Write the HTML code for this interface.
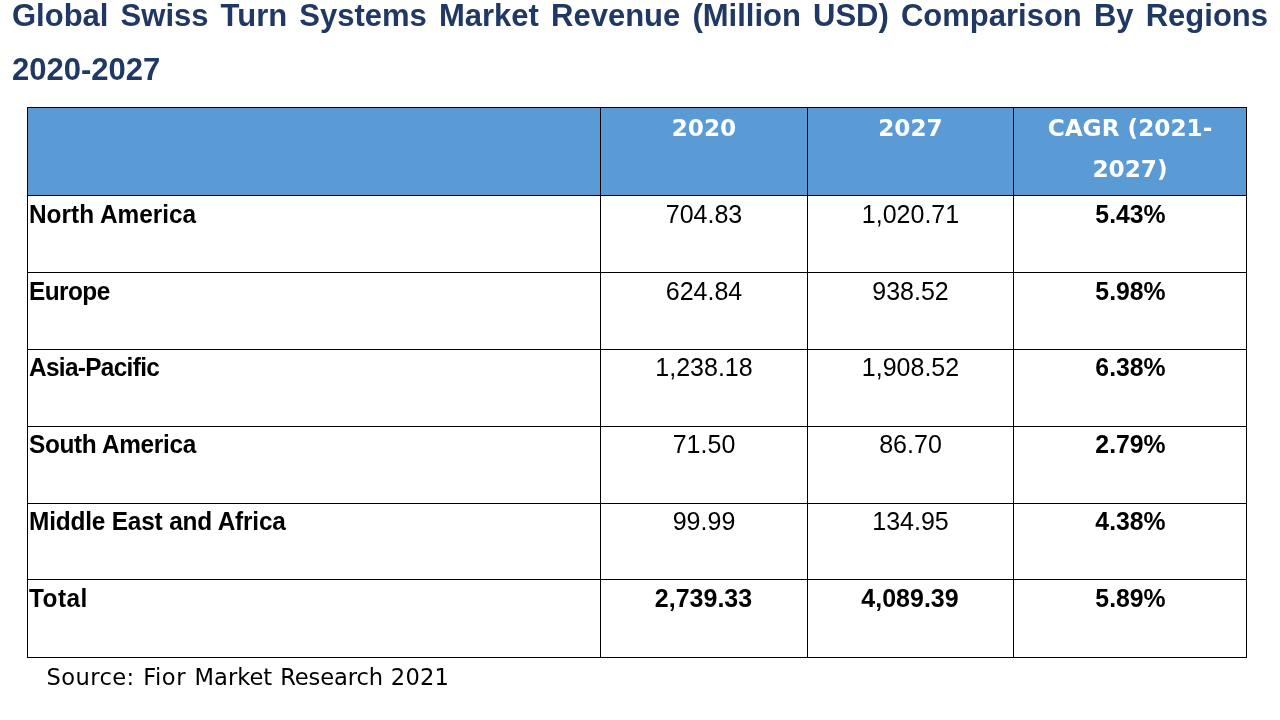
<!DOCTYPE html>
<html lang="en">
<head>
<meta charset="utf-8">
<title>Global Swiss Turn Systems Market Revenue (Million USD) Comparison By Regions 2020-2027</title>
<style>
  html, body { margin: 0; padding: 0; background: #fff; }
  body { width: 1280px; height: 720px; position: relative; overflow: hidden;
         font-family: "Liberation Sans", sans-serif; color: #000; }

  /* ---------- heading ---------- */
  h1 { position: absolute; left: 12px; top: -11px; width: 1256px; margin: 0;
       font: 700 31px/54px "Liberation Sans", sans-serif; color: #1f3864;
       text-align: justify; }

  /* ---------- table grid (1px black rules drawn by the table background) ---------- */
  table { position: absolute; left: 27px; top: 107px; border-collapse: separate;
          border-spacing: 1px; background: #000; table-layout: fixed; width: 1220px; }
  col.c0 { width: 572px; } col.c1 { width: 206px; } col.c2 { width: 205px; } col.c3 { width: 232px; }
  th, td { padding: 0; margin: 0; vertical-align: top; overflow: hidden; }

  thead th { height: 87px; background: #5b9bd5; color: #fff;
       font: 700 23.2px/41.3px "DejaVu Sans", sans-serif; text-align: center; }
  thead th > div { margin-top: -1px; }

  tbody tr { height: 76px; }
  tbody tr.r5 { height: 75px; }
  tbody tr.r6 { height: 77px; }
  tbody td, tbody th { background: #fff; line-height: 28px; }
  tbody th { text-align: left; font-weight: 700; font-size: 24.4px; }
  tbody td { text-align: center; font-weight: 400; font-size: 25px; }
  tbody td.b { font-weight: 700; font-size: 24.8px; }
  tbody tr.r6 td.b.t { font-size: 25px; }
  tbody tr.r6 td.b.t > div { padding-top: 4px; transform: translateX(-0.5px) scaleY(1.05); transform-origin: 50% 26px; }
  tbody th > div { padding: 5px 0 0 1px; white-space: nowrap;
       transform: scaleY(1.05); transform-origin: 0 27px; }
  tbody td > div { padding: 5px 0 0 0; white-space: nowrap; }
  tbody td.b > div { transform: translateX(0.5px) scaleY(1.05); transform-origin: 50% 27px; }
  tbody td:not(.b) > div { padding-top: 4px; }
  tbody tr.up th > div, tbody tr.up td > div { padding-top: 4px; transform-origin: 0 26px; }
  tbody tr.up td.b > div { transform-origin: 50% 26px; }
  tbody tr.up td:not(.b) > div { padding-top: 3px; }

  /* ---------- footnote ---------- */
  p.source { position: absolute; left: 46.5px; top: 662px; margin: 0; white-space: nowrap;
       font: 400 22.6px/30px "DejaVu Sans", sans-serif; color: #000;
       letter-spacing: 0.18px; word-spacing: 0.9px; }
</style>
</head>
<body>
<h1>Global Swiss Turn Systems Market Revenue (Million USD) Comparison By Regions 2020-2027</h1>
<table>
  <colgroup><col class="c0"><col class="c1"><col class="c2"><col class="c3"></colgroup>
  <thead>
    <tr><th></th><th><div>2020</div></th><th><div>2027</div></th><th><div>CAGR (2021-<br>2027)</div></th></tr>
  </thead>
  <tbody>
    <tr class="r1"><th><div>North America</div></th><td><div>704.83</div></td><td><div>1,020.71</div></td><td class="b"><div>5.43%</div></td></tr>
    <tr class="r2"><th><div style="letter-spacing:-0.56px">Europe</div></th><td><div>624.84</div></td><td><div>938.52</div></td><td class="b"><div>5.98%</div></td></tr>
    <tr class="r3 up"><th><div style="letter-spacing:-0.68px">Asia-Pacific</div></th><td><div>1,238.18</div></td><td><div>1,908.52</div></td><td class="b"><div>6.38%</div></td></tr>
    <tr class="r4 up"><th><div style="letter-spacing:-0.33px">South America</div></th><td><div>71.50</div></td><td><div>86.70</div></td><td class="b"><div>2.79%</div></td></tr>
    <tr class="r5 up"><th><div style="letter-spacing:-0.18px">Middle East and Africa</div></th><td><div>99.99</div></td><td><div>134.95</div></td><td class="b"><div>4.38%</div></td></tr>
    <tr class="r6"><th><div style="letter-spacing:0.45px">Total</div></th><td class="b t"><div>2,739.33</div></td><td class="b t"><div>4,089.39</div></td><td class="b"><div>5.89%</div></td></tr>
  </tbody>
</table>
<p class="source"><span style="letter-spacing:0.42px">Source: </span><span style="letter-spacing:0.52px">Fior </span><span style="letter-spacing:-0.02px">Market </span><span style="letter-spacing:-0.12px">Research </span>2021</p>
</body>
</html>
